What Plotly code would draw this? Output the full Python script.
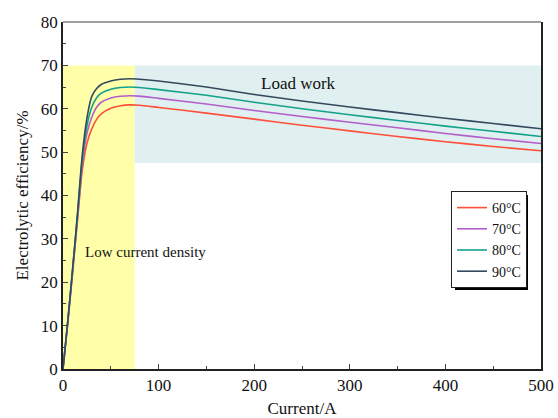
import plotly.graph_objects as go

current = [0, 5, 10, 15, 20, 25, 30, 35, 40, 50, 60, 70, 80, 100, 150, 200, 250, 300, 350, 400, 450, 500]
eff_60 = [0, 10.5, 22.0, 33.8, 45.5, 52.0, 55.3, 57.5, 58.8, 60.1, 60.7, 60.9, 60.8, 60.3, 59.0, 57.6, 56.2, 54.9, 53.6, 52.4, 51.3, 50.3]
eff_70 = [0, 10.8, 22.5, 34.5, 47.0, 54.3, 58.0, 60.3, 61.5, 62.5, 62.9, 63.0, 62.9, 62.4, 61.1, 59.6, 58.2, 56.9, 55.6, 54.3, 53.1, 52.0]
eff_80 = [0, 11.0, 22.8, 35.0, 48.0, 56.0, 60.3, 62.5, 63.6, 64.5, 64.9, 65.0, 64.9, 64.4, 63.1, 61.5, 60.0, 58.6, 57.3, 56.0, 54.8, 53.6]
eff_90 = [0, 11.0, 23.0, 35.5, 49.0, 57.8, 62.8, 64.6, 65.6, 66.4, 66.8, 66.9, 66.8, 66.4, 65.0, 63.3, 61.8, 60.4, 59.1, 57.8, 56.6, 55.4]

series_names = ["60°C", "70°C", "80°C", "90°C"]
series_vals = [eff_60, eff_70, eff_80, eff_90]
colors = ["#FF4F3A", "#B35FCB", "#12A28C", "#34495E"]

low_region_x = [0, 75]
low_region_y = [0, 70]
load_region_x = [75, 500]
load_region_y = [47.5, 70]

FONT = "Liberation Serif"

fig = go.Figure()
for name, vals, c in zip(series_names, series_vals, colors):
    fig.add_trace(go.Scatter(x=current, y=vals, mode="lines", name=name,
                             line=dict(color=c, width=1.6, shape="spline", smoothing=0.6)))

fig.add_shape(type="rect", xref="x", yref="y", x0=low_region_x[0], x1=low_region_x[1],
              y0=low_region_y[0], y1=low_region_y[1], fillcolor="#FFFFAA", line_width=0, layer="below")
fig.add_shape(type="rect", xref="x", yref="y", x0=load_region_x[0], x1=load_region_x[1],
              y0=load_region_y[0], y1=load_region_y[1], fillcolor="#E0EFEF", line_width=0, layer="below")
# top frame line (gray)
fig.add_shape(type="line", xref="paper", yref="paper", x0=0, x1=1, y0=1, y1=1,
              line=dict(color="#808080", width=1.5))

fig.add_annotation(x=246, y=65.9, xref="x", yref="y", text="Load work", showarrow=False,
                   font=dict(family=FONT, size=17, color="#111"))
fig.add_annotation(x=21, y=27, xref="x", yref="y", text="Low current density", showarrow=False,
                   xanchor="left", font=dict(family=FONT, size=15, color="#111"))

# legend shadow
fig.add_shape(type="rect", xref="paper", yref="paper",
              x0=(455 - 63) / 478, x1=(528 - 63) / 478,
              y0=(369 - 290) / 347, y1=(369 - 195) / 347,
              fillcolor="black", line_width=0, layer="above")

fig.update_layout(
    width=558, height=418,
    margin=dict(l=63, r=17, t=22, b=49),
    paper_bgcolor="white", plot_bgcolor="white",
    font=dict(family=FONT, size=17, color="#111"),
    showlegend=True,
    legend=dict(x=(451 - 63) / 478, y=(369 - 191) / 347, xanchor="left", yanchor="top",
                bgcolor="white", bordercolor="#222", borderwidth=1,
                font=dict(family=FONT, size=14), tracegroupgap=0,
                itemwidth=30),
    xaxis=dict(range=[0, 500], dtick=100, tick0=0, ticks="inside", ticklen=5, tickwidth=1.2,
               showline=True, linecolor="#222", linewidth=1.5, mirror=False, showgrid=False,
               zeroline=False, automargin=False,
               title=dict(text="Current/A", font=dict(size=17), standoff=12),
               minor=dict(dtick=50, ticks="inside", ticklen=3, tickwidth=1.2, showgrid=False),
               tickfont=dict(size=17)),
    yaxis=dict(range=[0, 80], dtick=10, tick0=0, ticks="inside", ticklen=5, tickwidth=1.2,
               showline=True, linecolor="#222", linewidth=1.5, mirror=True, showgrid=False,
               zeroline=False, automargin=False,
               title=dict(text="Electrolytic efficiency/%", font=dict(size=17), standoff=8),
               minor=dict(dtick=5, ticks="inside", ticklen=3, tickwidth=1.2, showgrid=False),
               tickfont=dict(size=17)),
)

fig.write_html("out.html")
